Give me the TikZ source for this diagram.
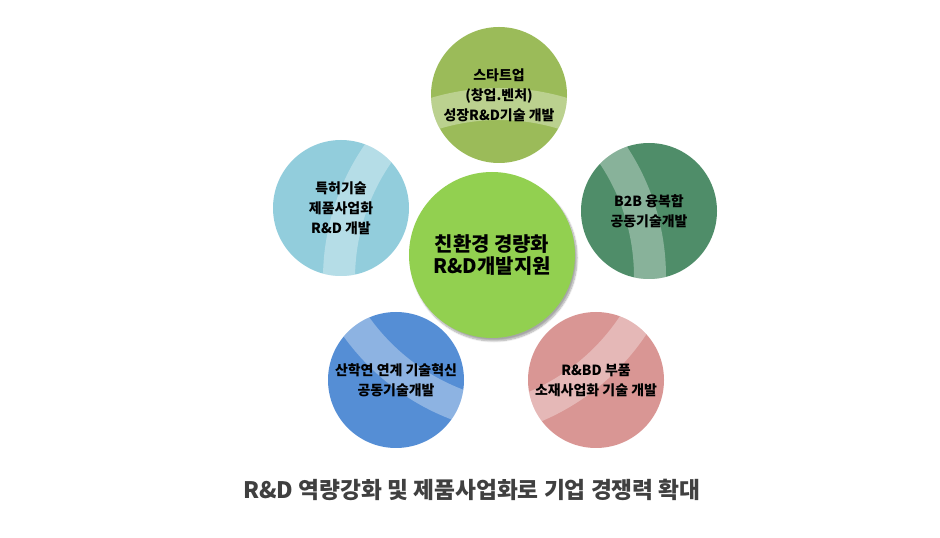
\documentclass[tikz,border=0pt]{standalone}
\usepackage{fontspec}
\newfontfamily\krfont{Noto Sans CJK KR}
\usetikzlibrary{shadows.blur}
\definecolor{startgreen}{HTML}{9BBB59}
\definecolor{patentblue}{HTML}{92CDDC}
\definecolor{fusiongreen}{HTML}{4F8D69}
\definecolor{unisblue}{HTML}{558ED5}
\definecolor{rnbdpink}{HTML}{D99694}
\definecolor{coregreen}{HTML}{92D050}
\definecolor{captiongray}{HTML}{404040}
\tikzset{
  bubble/.style={circle,inner sep=0pt,align=center,minimum size=136bp,
    font=\krfont\bfseries\fontsize{14}{20}\selectfont},
  band/.style 2 args={path picture={
    \fill[white,opacity=.33,even odd rule]
      ([shift={(#1,#2)}]path picture bounding box.center) circle (237bp) circle (205bp);}},
}
\begin{document}
\begin{tikzpicture}[line join=bevel,]
\useasboundingbox (0bp,0bp) rectangle (940bp,538bp);
%%
\node (core) at (492bp,283bp) [circle,inner sep=0pt,minimum size=166bp,fill=coregreen,
  blur shadow={shadow xshift=2bp,shadow yshift=-3bp,shadow blur steps=8,shadow opacity=35},
  align=center,font=\krfont\bfseries\fontsize{20}{22.5}\selectfont] {친환경 경량화\\R\&D개발지원};
  \node (startup) at (499bp,443bp) [bubble,fill=startgreen,band={0bp}{-230bp}] {스타트업\\(창업.벤처)\\성장R\&D기술 개발};
  \node (patent) at (341bp,330bp) [bubble,fill=patentblue,band={219bp}{-71bp}] {특허기술\\제품사업화\\R\&D 개발};
  \node (fusion) at (649bp,327bp) [bubble,fill=fusiongreen,band={-220bp}{-66bp}] {B2B 융복합\\공동기술개발};
  \node (unis) at (396bp,158bp) [bubble,fill=unisblue,band={140bp}{182bp}] {산학연 연계 기술혁신\\공동기술개발};
  \node (rnbd) at (596bp,158bp) [bubble,fill=rnbdpink,band={-147bp}{177bp}] {R\&BD 부품\\소재사업화 기술 개발};
%
\node (caption) at (472bp,48bp) [text=captiongray,font=\krfont\bfseries\fontsize{22.8}{24}\selectfont] {R\&D 역량강화 및 제품사업화로 기업 경쟁력 확대};
%
\end{tikzpicture}
\end{document}
